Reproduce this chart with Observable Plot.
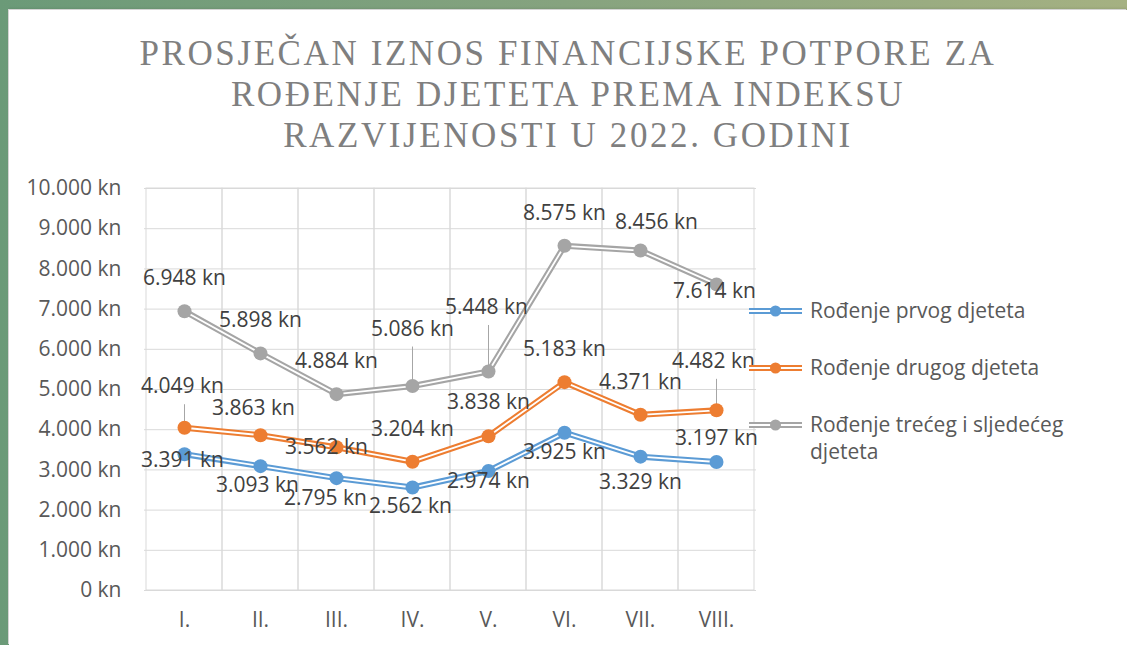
<!DOCTYPE html>
<html>
<head>
<meta charset="utf-8">
<script src="https://cdn.jsdelivr.net/npm/d3@7"></script>
<script src="https://cdn.jsdelivr.net/npm/@observablehq/plot@0.6"></script>
<style>
  html, body { margin:0; padding:0; }
  body { width:1127px; height:645px; overflow:hidden; position:relative;
         background: linear-gradient(90deg, #6b9a78 0%, #86a37f 50%, #a5b182 100%); }
  #panel { position:absolute; left:9px; top:10px; right:0; bottom:0; background:#fff;
           box-shadow: -1px -1px 0 #d4d4d4, 0 -2px 2px rgba(0,0,0,0.08); }
  #title { position:absolute; left:9px; right:0; top:33px; text-align:center;
           font-family:"Liberation Serif", serif; font-size:35px; line-height:41px;
           color:#7f7f7f; white-space:nowrap; }
  #title span { display:inline-block; }
  #chart { position:absolute; left:0; top:170px; }
  .leg { position:absolute; left:749px; font-family:"Open Sans", sans-serif; font-size:21px;
         color:#595959; line-height:27px; display:flex; align-items:flex-start; }
  .leg svg { flex:none; margin-top:8px; margin-right:8px; }
</style>
</head>
<body>
<div id="panel"></div>
<div id="title"><span>PROSJEČAN IZNOS FINANCIJSKE POTPORE ZA</span><br><span>ROĐENJE DJETETA PREMA INDEKSU</span><br><span>RAZVIJENOSTI U 2022. GODINI</span></div>
<div id="chart"></div>
<div id="legend"></div>
<script>
// ---- data ----
const categories = ["I.", "II.", "III.", "IV.", "V.", "VI.", "VII.", "VIII."];
const seriesNames = ["Rođenje prvog djeteta", "Rođenje drugog djeteta", "Rođenje trećeg i sljedećeg djeteta"];
const prvo  = [3391, 3093, 2795, 2562, 2974, 3925, 3329, 3197];
const drugo = [4049, 3863, 3562, 3204, 3838, 5183, 4371, 4482];
const trece = [6948, 5898, 4884, 5086, 5448, 8575, 8456, 7614];
const yTicks = [0, 1000, 2000, 3000, 4000, 5000, 6000, 7000, 8000, 9000, 10000];

// ---- styling / label placement (pixels, relative to point) ----
const colors = ["#5B9BD5", "#ED7D31", "#A5A5A5"];
const labelOffsets = [
  [[-2, 6], [-3, 19], [-11, 20], [-2, 19], [0, 10], [0, 20], [0, 26], [0, -24]],
  [[-2, -41], [-7, -27], [-10, 0], [0, -32], [0, -34], [0, -33], [0, -33], [-3, -49]],
  [[0, -33], [0, -33], [0, -33], [0, -57], [-2, -64], [0, -33], [16, -28], [-2, 7]]
];
const leaders = [[], [0, 7], [3, 4]]; // indices with leader lines per series

const W = 1127, H = 475, mT = 18, mB = 55, mL = 144, mR = 371;
const unitsPerPx = 10000 / (H - mT - mB);

const locale = d3.formatLocale({decimal: ",", thousands: ".", grouping: [3], currency: ["", ""]});
const fmt = locale.format(",d");
const kn = d => fmt(d) + " kn";

const valuesBySeries = [prvo, drugo, trece];
const rows = [];
valuesBySeries.forEach((vals, s) => vals.forEach((v, i) => rows.push({
  s, cat: categories[i], v, dx: labelOffsets[s][i][0], dy: labelOffsets[s][i][1],
  leader: leaders[s].includes(i)
})));
const leaderRows = rows.filter(r => r.leader);

const marks = [
  Plot.gridY(yTicks, {stroke: "#d9d9d9", strokeOpacity: 1}),
  Plot.cell(categories, {x: d => d, fill: "none", stroke: "#d9d9d9", inset: 0}),
  Plot.axisY(yTicks, {tickSize: 0, tickPadding: 23, tickFormat: kn, fill: "#595959", fontSize: 21}),
  Plot.axisX({tickSize: 0, tickPadding: 22, fill: "#595959", fontSize: 21}),
  Plot.ruleX(leaderRows, {x: "cat", y1: r => r.v + 4 * unitsPerPx, y2: r => r.v + (-r.dy - 18) * unitsPerPx,
                          stroke: "#a6a6a6", strokeWidth: 1})
];
[2, 1, 0].forEach(s => {
  const data = rows.filter(r => r.s === s);
  marks.push(
    Plot.line(data, {x: "cat", y: "v", stroke: colors[s], strokeWidth: 6}),
    Plot.line(data, {x: "cat", y: "v", stroke: "#ffffff", strokeWidth: 1.8}),
    Plot.dot(data, {x: "cat", y: "v", r: 7, fill: colors[s], stroke: "none"})
  );
});
[0, 1, 2].forEach(s => {
  rows.filter(r => r.s === s).forEach(r => {
    marks.push(Plot.text([r], {x: "cat", y: "v", text: d => kn(d.v), dx: r.dx, dy: r.dy,
      fill: "#404040", fontSize: 21, textAnchor: "middle", lineAnchor: "middle"}));
  });
});

const chart = Plot.plot({
  width: W, height: H,
  marginTop: mT, marginBottom: mB, marginLeft: mL, marginRight: mR,
  x: {type: "band", domain: categories, padding: 0, label: null},
  y: {domain: [0, 10000], label: null},
  style: {fontFamily: "'Open Sans', sans-serif", fontSize: "21px", background: "transparent", color: "#595959"},
  marks
});
document.getElementById("chart").appendChild(chart);

// legend
const legendTops = [297, 354, 411];
const legend = document.getElementById("legend");
seriesNames.forEach((name, s) => {
  const div = document.createElement("div");
  div.className = "leg";
  div.style.top = legendTops[s] + "px";
  div.innerHTML = `<svg width="53" height="12"><line x1="0" x2="53" y1="6" y2="6" stroke="${colors[s]}" stroke-width="6"/>` +
    `<line x1="0" x2="53" y1="6" y2="6" stroke="#fff" stroke-width="1.8"/><circle cx="26.5" cy="6" r="5.5" fill="${colors[s]}"/></svg>` +
    `<span style="width:270px">${name}</span>`;
  legend.appendChild(div);
});

// fit title letter-spacing to reference width
const spans = document.querySelectorAll("#title span");
const first = spans[0];
const natural = first.getBoundingClientRect().width;
const ls = (857 - natural) / first.textContent.length;
document.getElementById("title").style.letterSpacing = ls + "px";
</script>
</body>
</html>
